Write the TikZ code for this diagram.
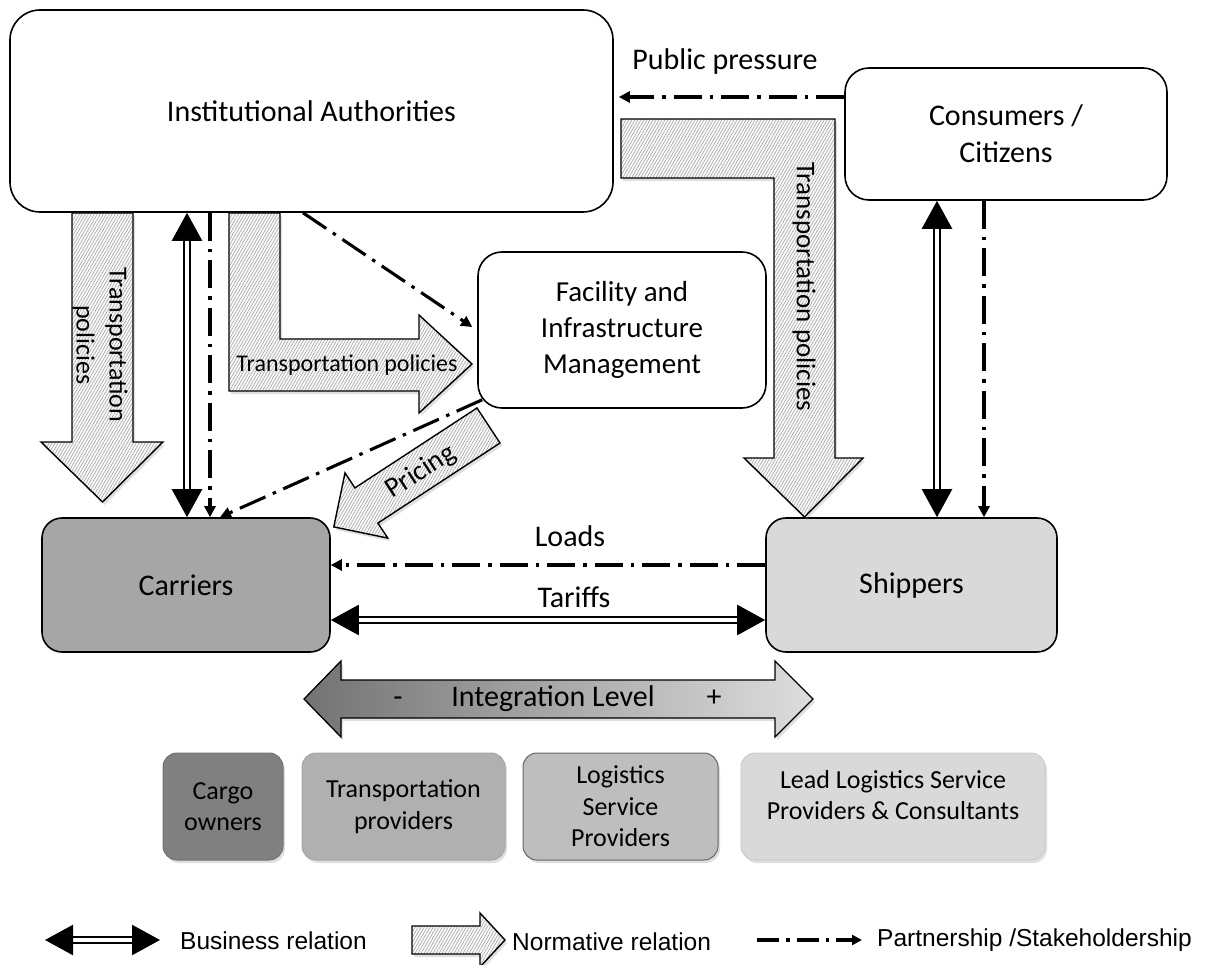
\documentclass[tikz,border=0pt]{standalone}
\usepackage{fontspec}
\setmainfont{Carlito}
\newfontfamily\legfont{Liberation Sans}
\usetikzlibrary{arrows.meta,calc,patterns.meta,shadows}
\begin{document}
\begin{tikzpicture}[x=1pt,y=-1pt,
  box/.style={draw, line width=1.6pt, rounded corners=#1, align=center, inner sep=0pt,
              font=\fontsize{30}{37}\selectfont},
  small/.style={draw=#1, line width=1pt, rounded corners=14pt, align=center, inner sep=0pt,
              minimum height=107pt, drop shadow={shadow xshift=2pt, shadow yshift=-3pt, opacity=0.25},
              font=\fontsize{26}{31.5}\selectfont},
  hatch/.style={draw, line width=1.4pt, line join=miter,
              drop shadow={shadow xshift=2pt, shadow yshift=-3pt, opacity=0.25},
              preaction={fill=gray!5},
              pattern={Lines[angle=60, distance=2.6pt, line width=0.5pt]}, pattern color=gray!80},
  biz/.style={line width=2.4pt, double=white, double distance=3.6pt,
              {Triangle[width=30pt,length=28pt]}-{Triangle[width=30pt,length=28pt]}},
  pship/.style={line width=3.1pt, dash pattern=on 28pt off 8pt on 3.5pt off 8pt,
              -{Triangle[width=11pt,length=11pt]}},
  lbl/.style={inner sep=0pt, font=\fontsize{30}{37}\selectfont},
  ilbl/.style={inner sep=0pt, text height=20pt, text depth=6pt, font=\fontsize{30}{37}\selectfont},
  albl/.style={inner sep=0pt, align=center},
  leg/.style={inner sep=0pt, anchor=west, font=\legfont\fontsize{24.5}{29}\selectfont}
]
\useasboundingbox (0,0) rectangle (1207,965);

% main boxes
\node[box=30pt, fill=white, minimum width=603pt, minimum height=202pt] (inst) at (311.5,111) {Institutional Authorities};
\node[box=24pt, fill=white, minimum width=322pt, minimum height=132pt] (cons) at (1006,134) {Consumers /\\Citizens};
\node[box=24pt, fill=white, minimum width=288pt, minimum height=156pt,
      font=\fontsize{29}{36}\selectfont] (fac) at (622,330) {Facility and\\Infrastructure\\Management};
\node[box=20pt, fill={rgb,255:red,166;green,166;blue,166}, minimum width=288pt, minimum height=134pt] (car) at (186,585) {Carriers};
\node[box=20pt, fill={rgb,255:red,217;green,217;blue,217}, minimum width=291pt, minimum height=134pt] (ship) at (911.5,585) {Shippers};

% hatched (normative) arrows
\draw[hatch] (72,213) -- (133,213) -- (133,442) -- (163,442) -- (102.5,502) -- (41,442) -- (72,442) -- cycle;
\node[albl, rotate=-90, font=\fontsize{26}{33}\selectfont] (tp1) at (100,345) {Transportation\\policies};

\draw[hatch] (229,213) -- (280,213) -- (280,339) -- (419,339) -- (419,315) -- (472,364) -- (419,413) -- (419,391) -- (229,391) -- cycle;
\node[albl, font=\fontsize{24}{29}\selectfont] (tp2) at (347,365) {Transportation\hspace{5pt}policies};

\draw[hatch] (621,119) -- (835,119) -- (835,458) -- (863,458) -- (804.5,517) -- (744,458) -- (774,458) -- (774,178) -- (621,178) -- cycle;
\node[albl, rotate=-90, font=\fontsize{27}{33}\selectfont] (tp3) at (804,287) {Transportation policies};

\draw[hatch] (477,408) -- (500,443) -- (377.9,523.1) -- (387.8,538.1) -- (333.8,526.9) -- (345,472.9) -- (354.9,487.9) -- cycle;
\node[albl, rotate=33, font=\fontsize{28}{33}\selectfont] (pr) at (421,472) {Pricing};

% business relations
\draw[biz] (187,0 |- inst.south) -- (187,0 |- car.north);
\draw[biz] (937,0 |- cons.south) -- (937,0 |- ship.north);
\draw[biz] (car.east |- 0,620) -- (ship.west |- 0,620);

% partnership relations
\draw[pship] (cons.west |- 0,97) -- ($(inst.east |- 0,97)+(5,0)$);
\draw[pship] (210,0 |- inst.south) -- (210,0 |- car.north);
\draw[pship] (303,0 |- inst.south) -- ($(fac.west |- 0,327)+(-5,0)$);
\draw[pship] ($(fac.south west)+(5,-9)$) -- (220,0 |- car.north);
\draw[pship] (984,0 |- cons.south) -- (984,0 |- ship.north);
\draw[pship] (ship.west |- 0,565) -- (car.east |- 0,565);

\node[lbl] (pp) at (725,62) {Public pressure};
\node[lbl] (ld) at (570,536) {Loads};
\node[lbl] (tf) at (574,597) {Tariffs};

% integration level
\draw[line width=1.3pt, left color=black!55, right color=black!13,
      drop shadow={shadow xshift=2pt, shadow yshift=-3pt, opacity=0.25}]
  (304,699) -- (341,661) -- (341,680) -- (775,680) -- (775,661) -- (813,699) -- (775,737) -- (775,718) -- (341,718) -- (341,737) -- cycle;
\node[ilbl] (il) at (553,699) {Integration Level};
\node[ilbl] (mn) at (398,699) {-};
\node[ilbl] (pl) at (714,699) {+};

% bottom boxes
\node[small=black!55, fill={rgb,255:red,128;green,128;blue,128}, minimum width=120pt] (cargo) at (223,806.5) {Cargo\\owners};
\node[small=black!35, fill={rgb,255:red,176;green,176;blue,176}, minimum width=203pt] (tprov) at (403.5,806.5) {Transportation\\providers};
\node[small=black!60, fill={rgb,255:red,190;green,190;blue,190}, minimum width=195pt] (lsp) at (620.5,806.5) {Logistics\\Service\\Providers};
\node[small=black!20, fill={rgb,255:red,217;green,217;blue,217}, minimum width=304pt] (llsp) at (893,806.5) {};
\node[albl, font=\fontsize{26}{31.5}\selectfont] (llspt) at (893,795) {Lead Logistics Service\\Providers \& Consultants};

% legend
\coordinate (la) at (45,940);
\coordinate (lb) at (160,940);
\draw[biz] (la) -- (lb);
\node[leg] (lt1) at (180,941) {Business relation};
\draw[hatch] (412,926) -- (480,926) -- (480,913) -- (505,940) -- (480,967) -- (480,954) -- (412,954) -- cycle;
\node[leg] (lt2) at (512,942) {Normative relation};
\coordinate (lc) at (757,940);
\coordinate (ld2) at (862,940);
\draw[line width=3.2pt, dash pattern=on 22pt off 7pt on 3.5pt off 7pt, -{Triangle[width=10pt,length=10pt]}] (lc) -- (ld2);
\node[leg] (lt3) at (877,940) {Partnership /Stakeholdership};
\end{tikzpicture}
\end{document}
